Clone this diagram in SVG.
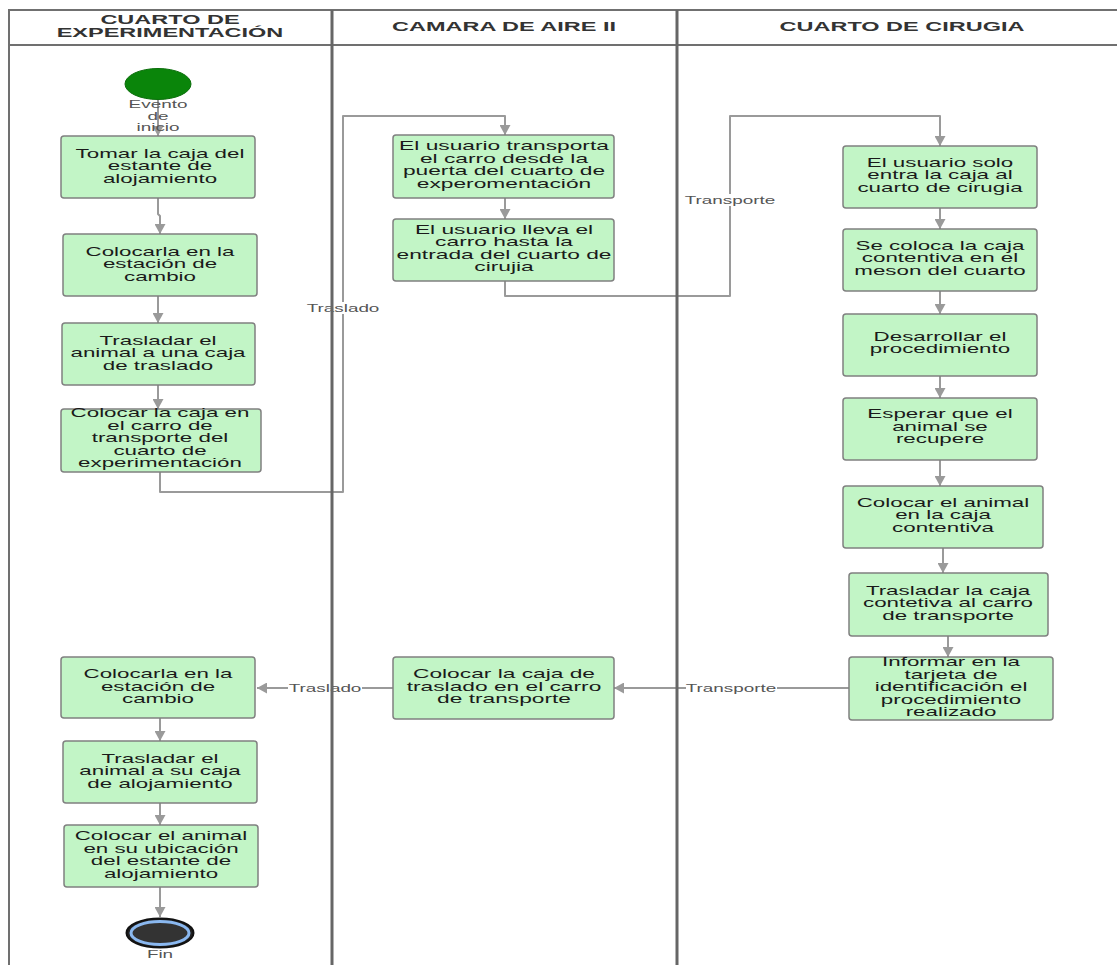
<svg xmlns="http://www.w3.org/2000/svg" width="1117" height="965" viewBox="0 0 1117 965">
<style>
.bg{fill:#ffffff}
.lane{stroke:#707070;stroke-width:2;fill:none}
.div{stroke:#666666;stroke-width:3;fill:none}
.hdr{font-family:"Liberation Sans",Arial,sans-serif;font-weight:bold;font-size:12.5px;fill:#333333;text-anchor:middle}
.box{fill:#c2f5c6;stroke:#808080;stroke-width:1.5}
.t{font-family:"Liberation Sans",Arial,sans-serif;font-size:13px;fill:#1a1a1a;text-anchor:middle}
.lbl{font-family:"Liberation Sans",Arial,sans-serif;font-size:10.5px;fill:#555555;text-anchor:middle}
.lblbg{fill:#ffffff}
.con{stroke:#9a9a9a;stroke-width:2;fill:none;stroke-linejoin:round}
</style>
<defs>
<marker id="arr" markerUnits="userSpaceOnUse" markerWidth="11" markerHeight="11" refX="10" refY="5.5" orient="auto">
<path d="M0,0 L10,5.5 L0,11 z" fill="#9a9a9a"/>
</marker>
</defs>
<rect class="bg" x="0" y="0" width="1117" height="965"/>

<g id="lanes">
<path class="lane" d="M9,965 V10 H1117"/>
<path class="lane" d="M9,45 H1117"/>
<text class="hdr" transform="translate(170 0) scale(1.88 1)"><tspan x="0" y="24">CUARTO DE</tspan><tspan x="0" y="37.5">EXPERIMENTACIÓN</tspan></text>
<text class="hdr" transform="translate(504 0) scale(1.88 1)"><tspan x="0" y="31">CAMARA DE AIRE II</tspan></text>
<text class="hdr" transform="translate(902 0) scale(1.88 1)"><tspan x="0" y="31">CUARTO DE CIRUGIA</tspan></text>
</g>

<g id="connectors">
<path class="con" d="M158,100 V136" marker-end="url(#arr)"/>
<path class="con" d="M158,198 V214 L160,216 V234" marker-end="url(#arr)"/>
<path class="con" d="M158,296 V323" marker-end="url(#arr)"/>
<path class="con" d="M158,385 V409" marker-end="url(#arr)"/>
<path class="con" d="M160,472 V492 H343 V116 H505 V135" marker-end="url(#arr)"/>
<path class="con" d="M505,198 V219" marker-end="url(#arr)"/>
<path class="con" d="M505,281 V296 H730 V116 H940 V146" marker-end="url(#arr)"/>
<path class="con" d="M940,208 V229" marker-end="url(#arr)"/>
<path class="con" d="M940,291 V314" marker-end="url(#arr)"/>
<path class="con" d="M940,376 V398" marker-end="url(#arr)"/>
<path class="con" d="M940,460 V486" marker-end="url(#arr)"/>
<path class="con" d="M943,548 V573" marker-end="url(#arr)"/>
<path class="con" d="M948,636 V657" marker-end="url(#arr)"/>
<path class="con" d="M849,688 H614" marker-end="url(#arr)"/>
<path class="con" d="M393,688 H257" marker-end="url(#arr)"/>
<path class="con" d="M160,718 V741" marker-end="url(#arr)"/>
<path class="con" d="M160,803 V825" marker-end="url(#arr)"/>
<path class="con" d="M160,887 V917" marker-end="url(#arr)"/>
<rect class="lblbg" x="306" y="302" width="74" height="12"/>
<text class="lbl" transform="translate(343 0) scale(1.8 1)"><tspan x="0" y="312">Traslado</tspan></text>
<rect class="lblbg" x="685" y="194" width="91" height="12"/>
<text class="lbl" transform="translate(730 0) scale(1.8 1)"><tspan x="0" y="204">Transporte</tspan></text>
<rect class="lblbg" x="686" y="682" width="91" height="12"/>
<text class="lbl" transform="translate(731 0) scale(1.8 1)"><tspan x="0" y="692">Transporte</tspan></text>
<rect class="lblbg" x="288" y="682" width="74" height="12"/>
<text class="lbl" transform="translate(325 0) scale(1.8 1)"><tspan x="0" y="692">Traslado</tspan></text>
</g>

<g id="dividers">
<path class="div" d="M332,10 V965"/>
<path class="div" d="M677,10 V965"/>
</g>

<g id="start">
<ellipse cx="158" cy="84" rx="33" ry="15.5" fill="#0a850a" stroke="#0b6e0b" stroke-width="1"/>
<text class="lbl" fill="#666" transform="translate(158 0) scale(1.8 1)"><tspan x="0" y="108">Evento</tspan><tspan x="0" y="120">de</tspan><tspan x="0" y="131.5">inicio</tspan></text>
</g>

<g id="n1"><rect class="box" x="61" y="136" width="194" height="62" rx="3"/>
<text class="t" transform="translate(160 0) scale(1.72 1)"><tspan x="0" y="158">Tomar la caja del</tspan><tspan x="0" y="170.5">estante de</tspan><tspan x="0" y="183">alojamiento</tspan></text></g>

<g id="n2"><rect class="box" x="63" y="234" width="194" height="62" rx="3"/>
<text class="t" transform="translate(160 0) scale(1.72 1)"><tspan x="0" y="256">Colocarla en la</tspan><tspan x="0" y="268.5">estación de</tspan><tspan x="0" y="281">cambio</tspan></text></g>

<g id="n3"><rect class="box" x="62" y="323" width="193" height="62" rx="3"/>
<text class="t" transform="translate(158 0) scale(1.72 1)"><tspan x="0" y="345">Trasladar el</tspan><tspan x="0" y="357.5">animal a una caja</tspan><tspan x="0" y="370">de traslado</tspan></text></g>

<g id="n4"><rect class="box" x="61" y="409" width="200" height="63" rx="3"/>
<text class="t" transform="translate(160 0) scale(1.72 1)"><tspan x="0" y="417.5">Colocar la caja en</tspan><tspan x="0" y="430">el carro de</tspan><tspan x="0" y="442.5">transporte del</tspan><tspan x="0" y="455">cuarto de</tspan><tspan x="0" y="467.5">experimentación</tspan></text></g>

<g id="n5"><rect class="box" x="61" y="657" width="194" height="61" rx="3"/>
<text class="t" transform="translate(158 0) scale(1.72 1)"><tspan x="0" y="678.5">Colocarla en la</tspan><tspan x="0" y="691">estación de</tspan><tspan x="0" y="703.5">cambio</tspan></text></g>

<g id="n6"><rect class="box" x="63" y="741" width="194" height="62" rx="3"/>
<text class="t" transform="translate(160 0) scale(1.72 1)"><tspan x="0" y="763">Trasladar el</tspan><tspan x="0" y="775.5">animal a su caja</tspan><tspan x="0" y="788">de alojamiento</tspan></text></g>

<g id="n7"><rect class="box" x="64" y="825" width="194" height="62" rx="3"/>
<text class="t" transform="translate(161 0) scale(1.72 1)"><tspan x="0" y="840.5">Colocar el animal</tspan><tspan x="0" y="853">en su ubicación</tspan><tspan x="0" y="865.5">del estante de</tspan><tspan x="0" y="878">alojamiento</tspan></text></g>

<g id="end">
<ellipse cx="160" cy="933" rx="33.5" ry="14.5" fill="#222222" stroke="#111111" stroke-width="2"/>
<ellipse cx="160" cy="933" rx="29" ry="11.5" fill="#333333" stroke="#8ab8f0" stroke-width="3"/>
<text class="lbl" fill="#666" transform="translate(160 0) scale(1.8 1)"><tspan x="0" y="958">Fin</tspan></text>
</g>

<g id="n8"><rect class="box" x="393" y="135" width="221" height="63" rx="3"/>
<text class="t" transform="translate(504 0) scale(1.75 1)"><tspan x="0" y="150.5">El usuario transporta</tspan><tspan x="0" y="163">el carro desde la</tspan><tspan x="0" y="175.5">puerta del cuarto de</tspan><tspan x="0" y="188">experomentación</tspan></text></g>

<g id="n9"><rect class="box" x="393" y="219" width="221" height="62" rx="3"/>
<text class="t" transform="translate(504 0) scale(1.75 1)"><tspan x="0" y="234">El usuario lleva el</tspan><tspan x="0" y="246.5">carro hasta la</tspan><tspan x="0" y="259">entrada del cuarto de</tspan><tspan x="0" y="271.5">cirujia</tspan></text></g>

<g id="n10"><rect class="box" x="393" y="657" width="221" height="62" rx="3"/>
<text class="t" transform="translate(504 0) scale(1.75 1)"><tspan x="0" y="678.5">Colocar la caja de</tspan><tspan x="0" y="691">traslado en el carro</tspan><tspan x="0" y="703.5">de transporte</tspan></text></g>

<g id="n11"><rect class="box" x="843" y="146" width="194" height="62" rx="3"/>
<text class="t" transform="translate(940 0) scale(1.72 1)"><tspan x="0" y="167">El usuario solo</tspan><tspan x="0" y="179.5">entra la caja al</tspan><tspan x="0" y="192">cuarto de cirugia</tspan></text></g>

<g id="n12"><rect class="box" x="843" y="229" width="194" height="62" rx="3"/>
<text class="t" transform="translate(940 0) scale(1.72 1)"><tspan x="0" y="250">Se coloca la caja</tspan><tspan x="0" y="262.5">contentiva en el</tspan><tspan x="0" y="275">meson del cuarto</tspan></text></g>

<g id="n13"><rect class="box" x="843" y="314" width="194" height="62" rx="3"/>
<text class="t" transform="translate(940 0) scale(1.72 1)"><tspan x="0" y="341">Desarrollar el</tspan><tspan x="0" y="353.5">procedimiento</tspan></text></g>

<g id="n14"><rect class="box" x="843" y="398" width="194" height="62" rx="3"/>
<text class="t" transform="translate(940 0) scale(1.72 1)"><tspan x="0" y="418.5">Esperar que el</tspan><tspan x="0" y="431">animal se</tspan><tspan x="0" y="443.5">recupere</tspan></text></g>

<g id="n15"><rect class="box" x="843" y="486" width="200" height="62" rx="3"/>
<text class="t" transform="translate(943 0) scale(1.72 1)"><tspan x="0" y="507">Colocar el animal</tspan><tspan x="0" y="519.5">en la caja</tspan><tspan x="0" y="532">contentiva</tspan></text></g>

<g id="n16"><rect class="box" x="849" y="573" width="199" height="63" rx="3"/>
<text class="t" transform="translate(948 0) scale(1.72 1)"><tspan x="0" y="595">Trasladar la caja</tspan><tspan x="0" y="607.5">contetiva al carro</tspan><tspan x="0" y="620">de transporte</tspan></text></g>

<g id="n17"><rect class="box" x="849" y="657" width="204" height="63" rx="3"/>
<text class="t" transform="translate(951 0) scale(1.72 1)"><tspan x="0" y="666.5">Informar en la</tspan><tspan x="0" y="679">tarjeta de</tspan><tspan x="0" y="691.5">identificación el</tspan><tspan x="0" y="704">procedimiento</tspan><tspan x="0" y="716.5">realizado</tspan></text></g>
</svg>
